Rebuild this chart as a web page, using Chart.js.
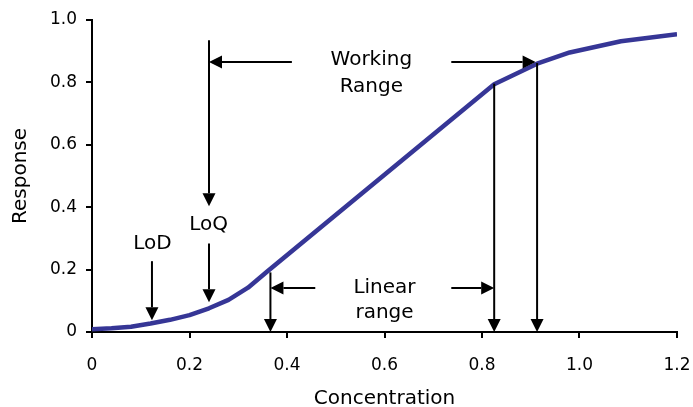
<!DOCTYPE html>
<html>
<head>
<meta charset="utf-8">
<script src="https://cdn.jsdelivr.net/npm/chart.js@4/dist/chart.umd.min.js"></script>
<style>
    html, body { margin: 0; padding: 0; background: #fff; }
    #wrap { width: 693px; height: 407px; }
</style>
</head>
<body>
<div id="wrap"><canvas id="myChart" width="693" height="407"></canvas></div>
<script>
// curve values
const concentration = [0, 0.04, 0.08, 0.12, 0.16, 0.20, 0.24, 0.28, 0.32, 0.36, 0.825, 0.913, 0.98, 1.085, 1.2];
const response = [0.009, 0.012, 0.017, 0.027, 0.039, 0.054, 0.076, 0.103, 0.142, 0.195, 0.794, 0.86, 0.896, 0.932, 0.954];
const xTickLabels = ['0', '0.2', '0.4', '0.6', '0.8', '1.0', '1.2'];
const yTickLabels = ['0', '0.2', '0.4', '0.6', '0.8', '1.0'];

// annotation arrows in data units, arrowhead at "to"
const arrows = [
    { from: [0.123, 0.227], to: [0.123, 0.0375] },   // LoD
    { from: [0.24, 0.935], to: [0.24, 0.403] },      // LoQ upper
    { from: [0.24, 0.284], to: [0.24, 0.095] },      // LoQ lower
    { from: [0.41, 0.865], to: [0.24, 0.865] },      // working range left
    { from: [0.737, 0.865], to: [0.91, 0.865] },     // working range right
    { from: [0.913, 0.862], to: [0.913, 0.0] },
    { from: [0.825, 0.796], to: [0.825, 0.0] },
    { from: [0.366, 0.191], to: [0.366, 0.0] },
    { from: [0.458, 0.141], to: [0.366, 0.141] },    // linear range left
    { from: [0.737, 0.141], to: [0.825, 0.141] }     // linear range right
];
const notes = [
    { text: 'LoD', at: [0.124, 0.284] },
    { text: 'LoQ', at: [0.239, 0.342] },
    { text: 'Working', at: [0.573, 0.871] },
    { text: 'Range', at: [0.573, 0.786] },
    { text: 'Linear', at: [0.6, 0.141] },
    { text: 'range', at: [0.6, 0.062] }
];

const FONT = '"DejaVu Sans", Verdana, sans-serif';

const annotationPlugin = {
    id: 'annotations',
    afterDatasetsDraw(chart) {
        const ctx = chart.ctx;
        const xs = chart.scales.x, ys = chart.scales.y;
        ctx.save();
        ctx.strokeStyle = '#000';
        ctx.fillStyle = '#000';
        ctx.lineWidth = 2;
        arrows.forEach(a => {
            const x1 = xs.getPixelForValue(a.from[0]), y1 = ys.getPixelForValue(a.from[1]);
            const x2 = xs.getPixelForValue(a.to[0]), y2 = ys.getPixelForValue(a.to[1]);
            const ang = Math.atan2(y2 - y1, x2 - x1);
            const len = 13, half = 6.5;
            const bx = x2 - len * Math.cos(ang), by = y2 - len * Math.sin(ang);
            ctx.beginPath();
            ctx.moveTo(x1, y1);
            ctx.lineTo(bx, by);
            ctx.stroke();
            ctx.beginPath();
            ctx.moveTo(x2, y2);
            ctx.lineTo(bx + half * Math.sin(ang), by - half * Math.cos(ang));
            ctx.lineTo(bx - half * Math.sin(ang), by + half * Math.cos(ang));
            ctx.closePath();
            ctx.fill();
        });
        ctx.font = '20px ' + FONT;
        ctx.textAlign = 'center';
        ctx.textBaseline = 'middle';
        notes.forEach(n => {
            ctx.fillText(n.text, xs.getPixelForValue(n.at[0]), ys.getPixelForValue(n.at[1]));
        });
        ctx.restore();
    }
};

const ctx = document.getElementById('myChart').getContext('2d');
new Chart(ctx, {
    type: 'line',
    data: {
        datasets: [{
            data: concentration.map((c, i) => ({ x: c, y: response[i] })),
            borderColor: '#363696',
            borderWidth: 4.5,
            borderJoinStyle: 'round',
            pointRadius: 0,
            tension: 0,
            fill: false
        }]
    },
    options: {
        responsive: false,
        animation: false,
        layout: { padding: { left: 0, right: 16, top: 20, bottom: 0 } },
        scales: {
            x: {
                type: 'linear',
                min: 0,
                max: 1.2,
                ticks: {
                    stepSize: 0.2,
                    color: '#000',
                    padding: 17,
                    maxRotation: 0,
                    font: { family: FONT, size: 17 },
                    callback: (v, i) => xTickLabels[i]
                },
                grid: { drawOnChartArea: false, drawTicks: true, tickLength: 6, color: '#000', lineWidth: 2 },
                border: { color: '#000', width: 2 },
                title: {
                    display: true,
                    text: 'Concentration',
                    color: '#000',
                    font: { family: FONT, size: 20, lineHeight: 0.85 },
                    padding: { top: 0, bottom: 0 }
                },
                afterFit: axis => {
                    axis.height = 75;
                    axis.paddingLeft = 0;
                    axis.paddingRight = 0;
                }
            },
            y: {
                min: 0,
                max: 1,
                ticks: {
                    stepSize: 0.2,
                    color: '#000',
                    padding: 9,
                    font: { family: FONT, size: 17 },
                    callback: (v, i) => yTickLabels[i]
                },
                grid: { drawOnChartArea: false, drawTicks: true, tickLength: 6, color: '#000', lineWidth: 2 },
                border: { color: '#000', width: 2 },
                title: {
                    display: true,
                    text: 'Response',
                    color: '#000',
                    font: { family: FONT, size: 20, lineHeight: 1 },
                    padding: { top: 11, bottom: 11 }
                },
                afterFit: axis => { axis.width = 92; }
            }
        },
        plugins: {
            legend: { display: false },
            tooltip: { enabled: false }
        }
    },
    plugins: [annotationPlugin]
});
</script>
</body>
</html>
